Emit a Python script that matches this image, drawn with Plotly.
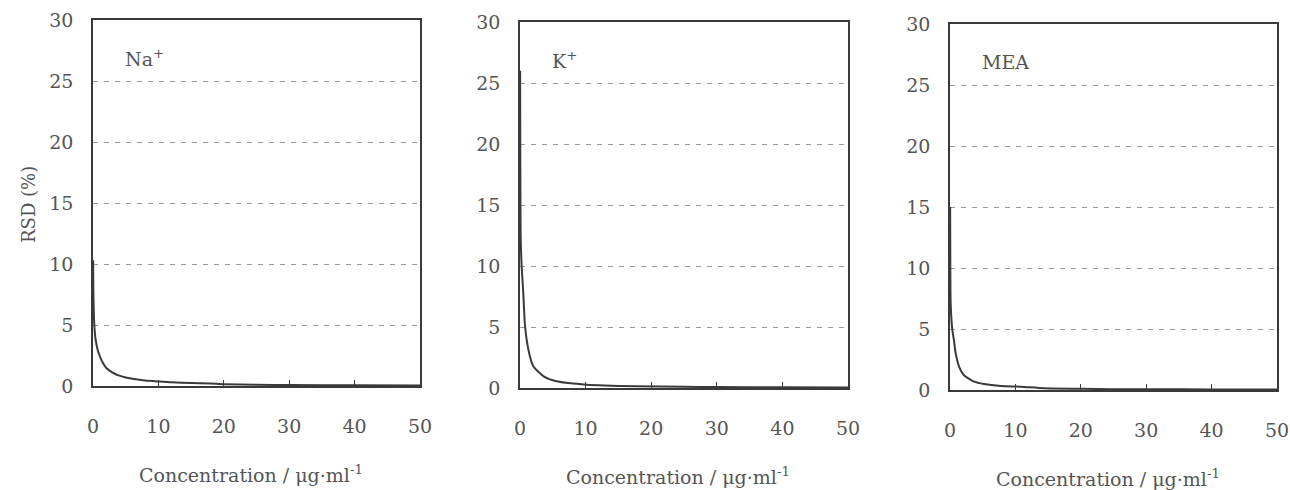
import plotly.graph_objects as go

# RSD (%) versus concentration (µg/ml) for three analytes
na_conc = [0.02, 0.05, 0.1, 0.2, 0.4, 0.7, 1.0, 1.5, 2, 3, 4, 5, 6, 8, 10, 12, 15, 18, 20, 25, 30, 40, 50]
na_rsd = [10.3, 8.0, 6.5, 5.0, 3.8, 3.0, 2.5, 1.9, 1.5, 1.1, 0.85, 0.7, 0.6, 0.45, 0.37, 0.3, 0.25, 0.2, 0.15, 0.1, 0.08, 0.06, 0.05]

k_conc = [0.02, 0.05, 0.1, 0.25, 0.5, 0.77, 1.3, 2.0, 3.6, 5.6, 10.2, 17.9, 25, 30, 40, 50]
k_rsd = [26.0, 18.0, 12.4, 10.0, 7.8, 5.05, 3.1, 1.8, 0.96, 0.55, 0.27, 0.14, 0.1, 0.08, 0.06, 0.05]

mea_conc = [0.02, 0.05, 0.1, 0.36, 0.6, 0.87, 1.4, 2.1, 3.7, 5.2, 7.8, 10.8, 14.4, 20, 25, 30, 40, 50]
mea_rsd = [15.0, 10.0, 7.1, 4.9, 4.1, 3.0, 1.9, 1.23, 0.68, 0.49, 0.33, 0.27, 0.14, 0.1, 0.07, 0.06, 0.05, 0.05]

panel_labels = ["Na<sup>+</sup>", "K<sup>+</sup>", "MEA"]
x_ticks = [0, 10, 20, 30, 40, 50]
y_ticks = [0, 5, 10, 15, 20, 25, 30]

series = [(na_conc, na_rsd), (k_conc, k_rsd), (mea_conc, mea_rsd)]

W, H = 1290, 490
# pixel frames of the three plot areas: (left, right, top, bottom)
frames = [(93, 420, 20, 386), (520, 848, 22, 388), (950, 1277, 24, 390)]

FONT = "DejaVu Serif"
TXT = "#555555"
INK = "#3a3a3a"

fig = go.Figure()
layout = dict(
    width=W, height=H,
    margin=dict(l=0, r=0, t=0, b=0, autoexpand=False),
    paper_bgcolor="white", plot_bgcolor="white",
    showlegend=False,
    font=dict(family=FONT, size=18, color=TXT),
)
annotations = []

for i, ((xs, ys), (l, r, t, b)) in enumerate(zip(series, frames)):
    n = "" if i == 0 else str(i + 1)
    fig.add_trace(go.Scatter(
        x=xs, y=ys, mode="lines",
        line=dict(color=INK, width=2, shape="spline", smoothing=0.6),
        xaxis="x" + n, yaxis="y" + n,
    ))
    layout["xaxis" + n] = dict(
        domain=[l / W, r / W], anchor="y" + n,
        range=[0, 50], tickvals=x_ticks, ticks="inside", ticklen=6,
        tickcolor=INK, showline=True, linecolor=INK, linewidth=1.5,
        mirror=True, showgrid=False, zeroline=False,
        ticklabelstandoff=22, tickfont=dict(size=19, color=TXT),
    )
    layout["yaxis" + n] = dict(
        domain=[1 - b / H, 1 - t / H], anchor="x" + n,
        range=[0, 30], tickvals=y_ticks, ticks="",
        showline=True, linecolor=INK, linewidth=1.5, mirror=True,
        showgrid=True, gridcolor="#9a9a9a", gridwidth=1, griddash="5px,6px",
        zeroline=False, ticklabelstandoff=14, tickfont=dict(size=19, color=TXT),
    )
    annotations.append(dict(
        text=panel_labels[i], xref="paper", yref="paper",
        x=(l + 30) / W, y=1 - (t + 38) / H, xanchor="left", yanchor="middle",
        showarrow=False, font=dict(size=19, color=TXT, family=FONT),
    ))
    annotations.append(dict(
        text="Concentration / \u03bcg\u00b7ml<sup>-1</sup>", xref="paper", yref="paper",
        x=(l + r) / 2 / W - 6 / W, y=1 - (b + 88) / H, xanchor="center", yanchor="middle",
        showarrow=False, font=dict(size=19, color=TXT, family=FONT),
    ))

annotations.append(dict(
    text="RSD (%)", xref="paper", yref="paper", x=28 / W, y=1 - 205 / H,
    xanchor="center", yanchor="middle", textangle=-90, showarrow=False,
    font=dict(size=18, color=TXT, family=FONT),
))
layout["annotations"] = annotations
fig.update_layout(**layout)
fig.write_html("out.html")
